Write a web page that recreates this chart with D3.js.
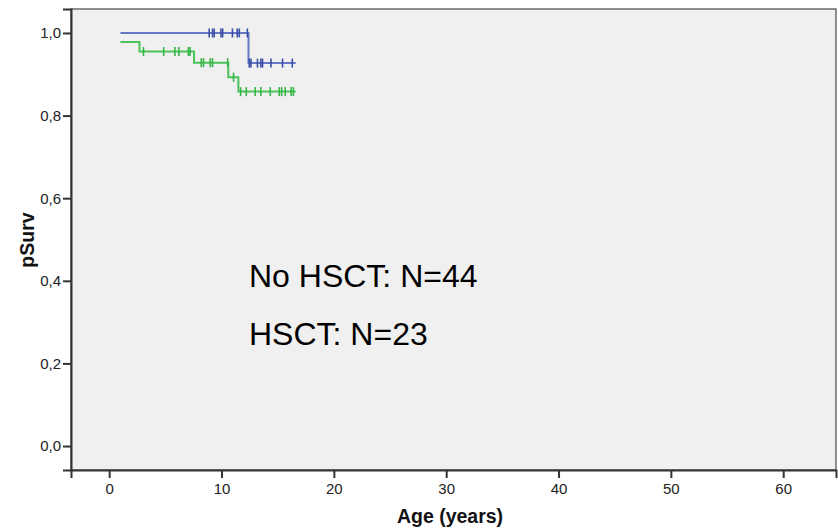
<!DOCTYPE html>
<html>
<head>
<meta charset="utf-8">
<script src="https://cdn.jsdelivr.net/npm/d3@7"></script>
<style>
  body { margin: 0; background: #fff; }
  text { font-family: "Liberation Sans", Arial, sans-serif; }
</style>
</head>
<body>
<svg id="chart" width="838" height="529"></svg>
<script>
// HSCT group (blue): step changes and censored ages
var hsctStepAges = [1.0, 12.4];
var hsctStepSurv = [1.0, 0.927];
var hsctEndAge = 16.6;
var hsctCensored = [8.9, 9.2, 9.35, 9.95, 10.1, 10.97, 11.4, 11.58, 12.3, 12.47, 12.62, 13.2, 13.5, 13.65, 14.4, 15.43, 16.3];

// No HSCT group (green)
var noHsctStepAges = [1.0, 2.7, 7.55, 10.6, 11.5];
var noHsctStepSurv = [0.978, 0.955, 0.928, 0.893, 0.858];
var noHsctEndAge = 16.6;
var noHsctCensored = [3.05, 4.85, 5.85, 6.2, 7.05, 7.2, 8.2, 8.4, 9.0, 9.2, 10.55, 11.07, 11.7, 12.2, 13.0, 13.5, 14.34, 15.14, 15.35, 15.67, 16.2, 16.4];

var xTicks = [0, 10, 20, 30, 40, 50, 60];
var yTicks = [0, 0.2, 0.4, 0.6, 0.8, 1.0];
var notes = ['No HSCT: N=44', 'HSCT: N=23'];

(function() {
  var svg = d3.select('#chart'),
      m = {left: 71, right: 836, top: 9, bottom: 470};

  var x = d3.scaleLinear().domain([-3.4, 64.7]).range([m.left, m.right]);
  var y = d3.scaleLinear().domain([-0.058, 1.058]).range([m.bottom, m.top]);

  // plot background + frame
  svg.append('rect')
    .attr('x', m.left).attr('y', m.top)
    .attr('width', m.right - m.left).attr('height', m.bottom - m.top)
    .attr('fill', '#f0f0f0')
    .attr('stroke', '#555')
    .attr('stroke-width', 1.3);

  var yAxis = svg.append('g')
    .attr('transform', 'translate(' + m.left + ',0)')
    .call(d3.axisLeft(y).tickValues(yTicks).tickSize(8).tickPadding(2)
      .tickFormat(function(d) { return d3.format('.1f')(d).replace('.', ','); }));

  var xAxis = svg.append('g')
    .attr('transform', 'translate(0,' + m.bottom + ')')
    .call(d3.axisBottom(x).tickValues(xTicks).tickSize(8).tickPadding(5));

  [xAxis, yAxis].forEach(function(g) {
    g.attr('font-family', null).attr('font-size', null);
    g.select('.domain').attr('stroke', '#333').attr('stroke-width', 2);
    g.selectAll('.tick line').attr('stroke', '#333').attr('stroke-width', 2);
    g.selectAll('.tick text')
      .attr('fill', '#222')
      .style('font-size', '15px');
  });

  function stepPoints(ages, surv, endAge) {
    var pts = ages.map(function(a, i) { return [a, surv[i]]; });
    pts.push([endAge, surv[surv.length - 1]]);
    return pts;
  }

  function survAt(ages, surv, t) {
    var i = d3.bisectRight(ages, t) - 1;
    return surv[Math.max(0, i)];
  }

  var line = d3.line()
    .x(function(d) { return x(d[0]); })
    .y(function(d) { return y(d[1]); })
    .curve(d3.curveStepAfter);

  function drawGroup(ages, surv, endAge, censored, lineColor, tickColor) {
    svg.append('path')
      .datum(stepPoints(ages, surv, endAge))
      .attr('d', line)
      .attr('fill', 'none')
      .attr('stroke', lineColor)
      .attr('stroke-width', 2);

    svg.append('g').selectAll('line')
      .data(censored)
      .join('line')
      .attr('x1', function(d) { return x(d); })
      .attr('x2', function(d) { return x(d); })
      .attr('y1', function(d) { return y(survAt(ages, surv, d)) - 4.5; })
      .attr('y2', function(d) { return y(survAt(ages, surv, d)) + 4.5; })
      .attr('stroke', tickColor)
      .attr('stroke-width', 1.6);
  }

  drawGroup(noHsctStepAges, noHsctStepSurv, noHsctEndAge, noHsctCensored, '#4cc25a', '#35b545');
  drawGroup(hsctStepAges, hsctStepSurv, hsctEndAge, hsctCensored, '#6677c4', '#3a4ea8');

  // annotations
  svg.selectAll('.note')
    .data(notes)
    .join('text')
    .attr('class', 'note')
    .attr('x', 249)
    .attr('y', function(d, i) { return 287 + i * 58; })
    .attr('fill', '#000')
    .style('font-size', '32px')
    .text(function(d) { return d; });

  // axis titles
  svg.append('text')
    .attr('x', 450)
    .attr('y', 523)
    .attr('text-anchor', 'middle')
    .style('font-size', '19.5px')
    .style('font-weight', 'bold')
    .attr('fill', '#111')
    .text('Age (years)');

  svg.append('text')
    .attr('transform', 'translate(34,240) rotate(-90)')
    .attr('text-anchor', 'middle')
    .style('font-size', '19.5px')
    .style('font-weight', 'bold')
    .attr('fill', '#111')
    .text('pSurv');
})();
</script>
</body>
</html>
